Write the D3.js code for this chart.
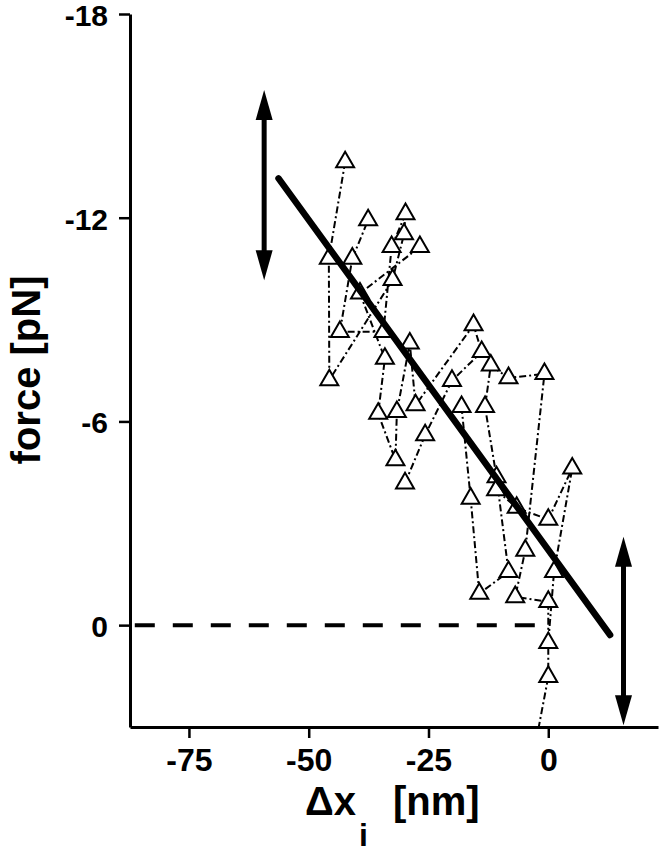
<!DOCTYPE html>
<html>
<head>
<meta charset="utf-8">
<script src="https://cdn.jsdelivr.net/npm/d3@7"></script>
<style>
  html, body { margin: 0; padding: 0; background: #fff; }
  svg { display: block; }
  text { font-family: "Liberation Sans", Arial, Helvetica, sans-serif; font-weight: bold; fill: #000; }
</style>
</head>
<body>
<svg id="chart" width="660" height="853"></svg>
<script>
// ---- data ----
const xDomain = [-87.3, 22.9];
const yDomain = [-18, 3];
const xTicks = [-75, -50, -25, 0];
const yTicks = [-18, -12, -6, 0];

// individual traces (Δx_i [nm], force [pN])
const series1 = [[-42.4,-13.64],[-45.8,-10.80],[-45.7,-7.22],[-32.5,-10.17],[-30.1,-11.52],[-29.8,-12.11],
                 [-32.7,-11.14],[-34.4,-8.64],[-43.5,-8.64],[-40.9,-10.80],[-37.6,-11.93]];
const series2 = [[-26.8,-11.14],[-39.3,-9.77],[-34.1,-7.85],[-35.5,-6.23],[-31.9,-4.86],[-31.6,-6.28],
                 [-28.9,-8.30],[-27.7,-6.48],[-15.6,-8.84],[-13.9,-8.05],[-20.1,-7.20],[-25.7,-5.60],[-29.9,-4.18]];
const series3 = [[-18.1,-6.43],[-16.2,-3.73],[-14.4,-0.93],[-8.3,-1.57],[-10.8,-4.36],[-13.2,-6.43],
                 [-12.0,-7.65],[-8.3,-7.28],[-0.8,-7.40],[-4.8,-2.20],[-6.9,-0.83],[0.0,-0.69],[0.0,1.52],[-3.6,4.2]];
const series4 = [[-10.9,-3.98],[-6.6,-3.46],[0.0,-3.11],[5.0,-4.62],[1.2,-1.57],[0.0,0.52]];

// linear fit end points
const fitX = [-56.3, 12.9];
const fitY = [-13.16, 0.29];
// zero-force reference
const zeroX = [-86.3, 0];
const zeroY = [0, 0];
// double-headed arrows: x, y-start, y-end
const arrows = [[-59.3, -15.76, -10.16], [15.7, -2.60, 2.95]];

// ---- drawing ----
const svg = d3.select("#chart");
const x = d3.scaleLinear().domain(xDomain).range([130, 658]);
const y = d3.scaleLinear().domain(yDomain).range([14, 727]);

svg.append("defs").append("clipPath").attr("id", "plot")
  .append("rect").attr("x", 130).attr("y", 0).attr("width", 530).attr("height", 727);

const fmt = d => String(d);
// axes
const xAxis = svg.append("g").attr("transform", `translate(0,${y(yDomain[1])})`)
  .call(d3.axisBottom(x).tickValues(xTicks).tickFormat(fmt).tickSize(11).tickSizeOuter(0).tickPadding(10));
const yAxis = svg.append("g").attr("transform", `translate(${x(xDomain[0])},0)`)
  .call(d3.axisLeft(y).tickValues(yTicks).tickFormat(fmt).tickSize(11).tickSizeOuter(0).tickPadding(11));
[xAxis, yAxis].forEach(g => {
  g.select(".domain").attr("stroke", "#000").attr("stroke-width", 3);
  g.selectAll(".tick line").attr("stroke", "#000").attr("stroke-width", 2.5);
  g.selectAll(".tick text").style("font-weight", "bold")
    .style("font-family", '"Liberation Sans", Arial, sans-serif').attr("fill", "#000");
});
xAxis.selectAll(".tick text").style("font-size", "32px");
yAxis.selectAll(".tick text").style("font-size", "30px").attr("dy", "0.38em");

// axis titles
svg.append("text").attr("transform", "translate(40,370) rotate(-90)")
  .attr("text-anchor", "middle").style("font-size", "40px").text("force [pN]");
svg.append("text").attr("x", 305).attr("y", 815).style("font-size", "40px").text("Δx");
svg.append("text").attr("x", 359).attr("y", 846).style("font-size", "32px").text("i");
svg.append("text").attr("x", 393).attr("y", 815).style("font-size", "40px").text("[nm]");

const plot = svg.append("g").attr("clip-path", "url(#plot)");

// zero line
plot.append("path")
  .attr("d", d3.line()([[x(zeroX[0]), y(zeroY[0])], [x(zeroX[1]), y(zeroY[1])]]))
  .attr("stroke", "#000").attr("stroke-width", 4).attr("stroke-dasharray", "20,18").attr("fill", "none");

// traces
const line = d3.line().x(d => x(d[0])).y(d => y(d[1]));
const allSeries = [series1, series2, series3, series4];
plot.selectAll("path.trace").data(allSeries).join("path").attr("class", "trace")
  .attr("d", line).attr("fill", "none").attr("stroke", "#000")
  .attr("stroke-width", 2).attr("stroke-dasharray", "7,3,2,3");

const tri = d3.symbol().type(d3.symbolTriangle).size(140);
const pts = allSeries.flat().filter(d => d[1] <= yDomain[1]);
plot.selectAll("path.pt").data(pts).join("path").attr("class", "pt")
  .attr("transform", d => `translate(${x(d[0])},${y(d[1])})`)
  .attr("d", tri).attr("fill", "#fff").attr("stroke", "#000").attr("stroke-width", 2);

// fit line
svg.append("path")
  .attr("d", d3.line()([[x(fitX[0]), y(fitY[0])], [x(fitX[1]), y(fitY[1])]]))
  .attr("stroke", "#000").attr("stroke-width", 6.5).attr("stroke-linecap", "round").attr("fill", "none");

// double-headed arrows
const headL = 30, headW = 8.5;
arrows.forEach(([ax, y1, y2]) => {
  const px = x(ax), top = y(y1), bot = y(y2);
  svg.append("line").attr("x1", px).attr("x2", px).attr("y1", top + headL - 2).attr("y2", bot - headL + 2)
    .attr("stroke", "#000").attr("stroke-width", 5);
  svg.append("path").attr("d", `M${px},${top} L${px - headW},${top + headL} L${px + headW},${top + headL} Z`).attr("fill", "#000");
  svg.append("path").attr("d", `M${px},${bot} L${px - headW},${bot - headL} L${px + headW},${bot - headL} Z`).attr("fill", "#000");
});
</script>
</body>
</html>
